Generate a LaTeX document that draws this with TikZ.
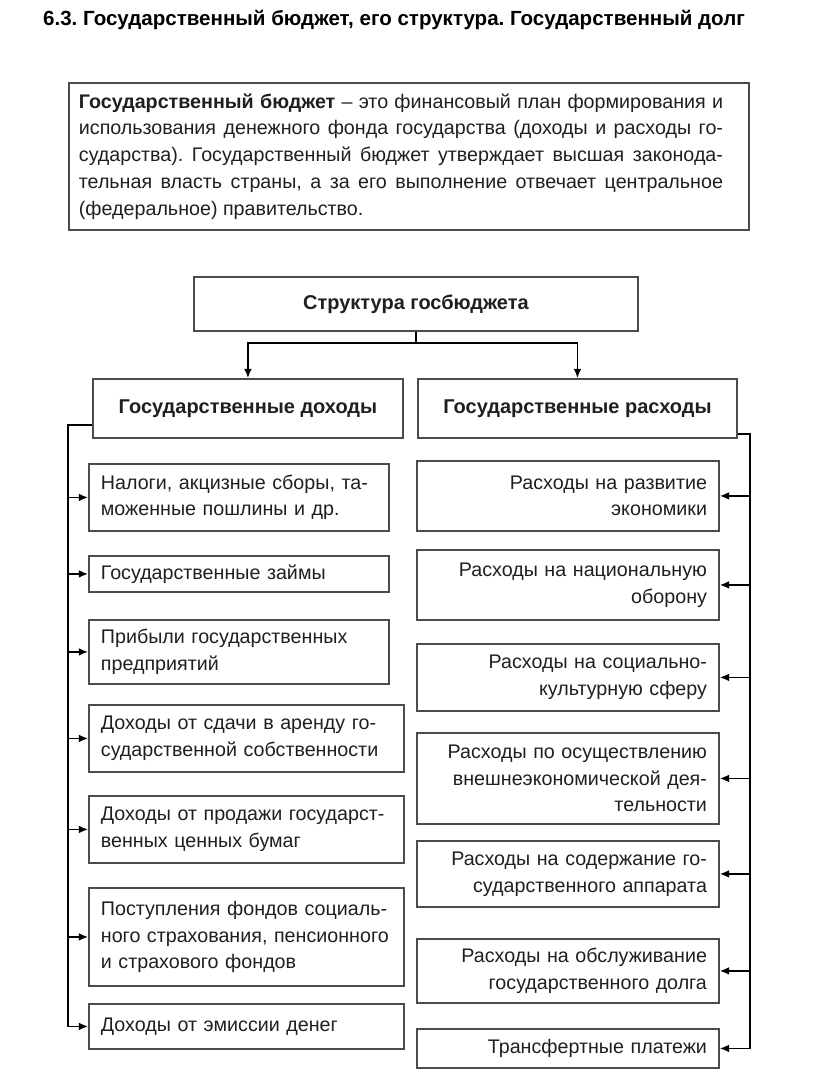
\documentclass[tikz,border=0pt]{standalone}
\usepackage{fontspec}
\setmainfont{Liberation Sans}
\usepackage{xcolor}
\usepackage{tikz}
\usetikzlibrary{arrows.meta,calc}
\definecolor{frame}{gray}{0.3}
\definecolor{ink}{gray}{0.12}
\tikzset{
    box/.style={draw=frame, line width=1.3pt, inner xsep=0.3cm, inner ysep=0pt, text=ink,
        anchor=north west, font=\fontsize{14}{19}\selectfont},
    incbox/.style={box, align=left, text width=6.9cm, minimum width=7.5cm},
    wide/.style={text width=7.275cm, minimum width=7.875cm},
    expbox/.style={box, align=right, text width=6.95cm, minimum width=7.55cm},
    headbox/.style={box, align=center, font=\fontsize{14.2}{17}\selectfont\bfseries},
    arr/.style={draw=black, line width=1pt, -{Latex[length=6.5pt,width=5.5pt]}}}

\begin{document}
\frenchspacing
\begin{tikzpicture}[x=0.025cm,y=-0.025cm]
    \useasboundingbox (0,0) rectangle (816,1078);
    \node (T) at (394,20) {\fontsize{14.6}{17}\selectfont\bfseries 6.3. Государственный бюджет, его структура. Государственный долг};

    \node (B)[box, align=justify, text width=16.5cm, minimum width=17cm, minimum height=3.675cm, inner xsep=0.25cm] at (68,82)
        {\rightskip=0.4cm\relax
        \textbf{Государственный бюджет} – это финансовый план формирования и\linebreak
        использования денежного фонда государства (доходы и расходы го-\linebreak
        сударства). Государственный бюджет утверждает высшая законода-\linebreak
        тельная власть страны, а за его выполнение отвечает центральное\linebreak
        (федеральное) правительство.\par};

    \node (S)[headbox, minimum width=11.1cm, minimum height=1.35cm] at (193,276) {Структура госбюджета};
    \node (D)[headbox, minimum width=7.75cm, minimum height=1.475cm] at (92,378) {Государственные доходы};
    \node (R)[headbox, minimum width=7.975cm, minimum height=1.475cm] at (417,378) {Государственные расходы};

    % доходы
    \node (D1)[incbox, minimum height=1.675cm] at (88,463) {Налоги, акцизные сборы, та-\\моженные пошлины и др.};
    \node (D2)[incbox, minimum height=0.9cm] at (88,555) {Государственные займы};
    \node (D3)[incbox, minimum height=1.6cm] at (88,619) {Прибыли государственных\\предприятий};
    \node (D4)[incbox, wide, minimum height=1.675cm] at (88,704) {Доходы от сдачи в аренду го-\\сударственной собственности};
    \node (D5)[incbox, wide, minimum height=1.675cm] at (88,795) {Доходы от продажи государст-\\венных ценных бумаг};
    \node (D6)[incbox, wide, minimum height=2.45cm] at (88,887) {Поступления фондов социаль-\\ного страхования, пенсионного\\и страхового фондов};
    \node (D7)[incbox, wide, minimum height=1.125cm] at (88,1003) {Доходы от эмиссии денег};

    % расходы
    \node (R1)[expbox, minimum height=1.75cm] at (416,460) {Расходы на развитие\\экономики};
    \node (R2)[expbox, minimum height=1.75cm] at (416,549) {Расходы на национальную\\оборону};
    \node (R3)[expbox, minimum height=1.675cm] at (416,643) {Расходы на социально-\\культурную сферу};
    \node (R4)[expbox, minimum height=2.275cm] at (416,732) {Расходы по осуществлению\\внешнеэкономической дея-\\тельности};
    \node (R5)[expbox, minimum height=1.65cm] at (416,840) {Расходы на содержание го-\\сударственного аппарата};
    \node (R6)[expbox, minimum height=1.6cm] at (416,938) {Расходы на обслуживание\\государственного долга};
    \node (R7)[expbox, minimum height=0.975cm] at (416,1028) {Трансфертные платежи};

    \coordinate (fork) at (S.south |- 0,343);
    \coordinate (ls) at (68,425);
    \coordinate (rs) at (750,434);

    \draw[line width=1pt] (S.south) -- (fork);
    \draw[arr] (fork) -| (D.north);
    \draw[arr] (fork) -| (R.north);

    \draw[arr] (D.west |- ls) -- (ls) |- (D7.west);
    \foreach \i in {1,...,6} \draw[arr] (ls |- D\i.west) -- (D\i.west);

    \draw[arr] (R.east |- rs) -- (rs) |- (R7.east);
    \foreach \i in {1,...,6} \draw[arr] (rs |- R\i.east) -- (R\i.east);
\end{tikzpicture}
\end{document}
